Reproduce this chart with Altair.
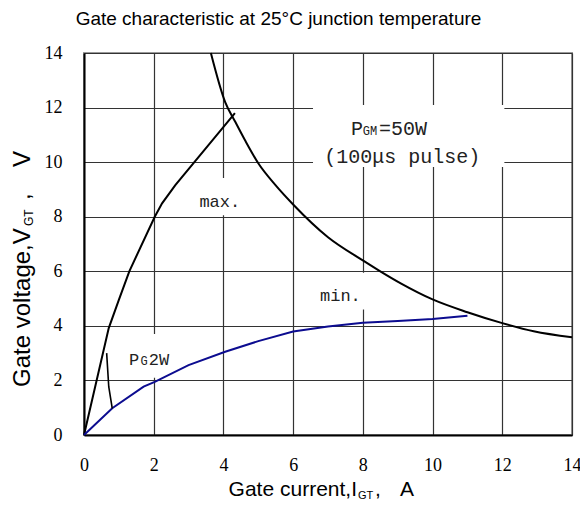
import altair as alt
import pandas as pd

# ---- data ----
TICKS = [0, 2, 4, 6, 8, 10, 12, 14]

max_i = [0, 0.71, 1.0, 1.3, 2.03, 2.24, 2.62, 4.33]
max_v = [0, 3.92, 4.95, 6.0, 8.0, 8.49, 9.16, 11.8]

min_i = [0, 0.81, 1.71, 2.03, 3.0, 4.05, 5.0, 6.0, 7.0, 8.0, 9.0, 10.0, 11.0]
min_v = [0, 0.98, 1.77, 1.95, 2.56, 3.05, 3.44, 3.79, 3.98, 4.11, 4.18, 4.25, 4.37]

pgm_i = [3.64, 4.05, 4.33, 4.62, 5.0, 5.5, 6.0, 7.0, 8.0, 8.5, 9.1, 10.0, 11.0, 12.0, 12.9, 14.0]
pgm_v = [14.0, 12.2, 11.5, 10.8, 9.96, 9.15, 8.45, 7.25, 6.4, 6.0, 5.55, 4.97, 4.5, 4.1, 3.8, 3.58]

pg_i = [0.65, 0.71, 0.81]
pg_v = [3.0, 1.77, 0.98]

# white label backgrounds (data coordinates)
box_x1 = [6.57, 3.2, 6.6, 1.15]
box_x2 = [12.06, 4.6, 8.2, 2.45]
box_y1 = [9.82, 8.05, 4.6, 2.1]
box_y2 = [12.09, 9.42, 5.95, 3.7]

# annotation labels (text, x, y)
ann_text = ["max.", "min.", "P", "GM", "=50W", "(100μs pulse)", "P", "G", "2W"]
ann_x = [3.31, 6.77, 7.66, 8.0, 8.46, 6.89, 1.29, 1.62, 1.86]
ann_y = [8.36, 4.91, 10.99, 10.99, 10.99, 9.97, 2.56, 2.56, 2.56]
ann_kind = ["n", "n", "b", "s", "b", "b", "n", "s", "n"]

title_text = "Gate characteristic at 25°C junction temperature"
xtitle_parts = ["Gate current,I", "GT", ",", "A"]
ytitle_parts = ["Gate voltage,V", "GT", ",", "V"]

# ---- scales / axes ----
xs = alt.Scale(domain=[0, 14], nice=False, zero=False)
ys = alt.Scale(domain=[0, 14], nice=False, zero=False)

common_axis = dict(
    values=TICKS, title=None, grid=True, ticks=False, labelFlush=False,
    labelOverlap=False, labelFont="Liberation Serif", labelFontSize=18,
    labelColor="black", domainColor="black", domainWidth=2,
    gridColor="#333333", gridWidth=1.2,
)
xaxis = alt.Axis(labelPadding=21, **common_axis)
yaxis = alt.Axis(labelPadding=22, **common_axis)


def X(f):
    return alt.X(f"{f}:Q", scale=xs, axis=xaxis)


def Y(f):
    return alt.Y(f"{f}:Q", scale=ys, axis=yaxis)


boxes = alt.Chart(pd.DataFrame({"x1": box_x1, "x2": box_x2, "y1": box_y1, "y2": box_y2})).mark_rect(
    color="white"
).encode(x=X("x1"), x2="x2", y=Y("y1"), y2="y2")


def line(xv, yv, color, width, interp="linear"):
    df = pd.DataFrame({"i": xv, "v": yv, "k": list(range(len(xv)))})
    return alt.Chart(df).mark_line(color=color, strokeWidth=width, interpolate=interp).encode(
        x=X("i"), y=Y("v"), order="k:Q"
    )


l_max = line(max_i, max_v, "black", 2)
l_min = line(min_i, min_v, "#0c0c90", 2)
l_pgm = line(pgm_i, pgm_v, "black", 2, "monotone")
l_pg = line(pg_i, pg_v, "black", 1.6)

sizes = {"n": 17, "b": 20, "s": 12}
ann_layers = []
for kind, fs in sizes.items():
    idx = [j for j, k in enumerate(ann_kind) if k == kind]
    df = pd.DataFrame({"t": [ann_text[j] for j in idx], "x": [ann_x[j] for j in idx],
                       "y": [ann_y[j] for j in idx]})
    ann_layers.append(
        alt.Chart(df).mark_text(font="Liberation Mono", fontSize=fs, align="left",
                                baseline="alphabetic", color="#222222").encode(
            x=X("x"), y=Y("y"), text="t:N")
    )


def ptext(txt, x, y, size, align="left", angle=0, font="Liberation Sans"):
    kw = dict(font=font, fontSize=size, align=align, baseline="alphabetic", color="black")
    if angle:
        kw["angle"] = angle
    return alt.Chart(pd.DataFrame({"t": [txt]})).mark_text(**kw).encode(
        x=alt.value(x), y=alt.value(y), text="t:N")


title = ptext(title_text, 194.5, -28, 19, align="center")

xt = [
    ptext(xtitle_parts[0], 273, 443, 21, align="right"),
    ptext(xtitle_parts[1], 274, 446, 11),
    ptext(xtitle_parts[2], 291, 443, 21),
    ptext(xtitle_parts[3], 316, 443, 21),
]
yt = [
    ptext(ytitle_parts[0], -54, 334, 24, angle=270),
    ptext(ytitle_parts[1], -51, 173, 12, angle=270),
    ptext(ytitle_parts[2], -54, 147, 24, angle=270),
    ptext(ytitle_parts[3], -54, 114, 24, angle=270),
]

chart = alt.layer(
    boxes, l_max, l_min, l_pgm, l_pg, *ann_layers, title, *xt, *yt
).properties(
    width=488, height=382,
    autosize=alt.AutoSizeParams(type="none"),
    padding={"left": 76, "top": 45, "right": 8, "bottom": 67},
).configure_view(stroke="#999999", strokeWidth=2)

chart.save("out.html", embed_options={"renderer": "svg", "actions": False})
